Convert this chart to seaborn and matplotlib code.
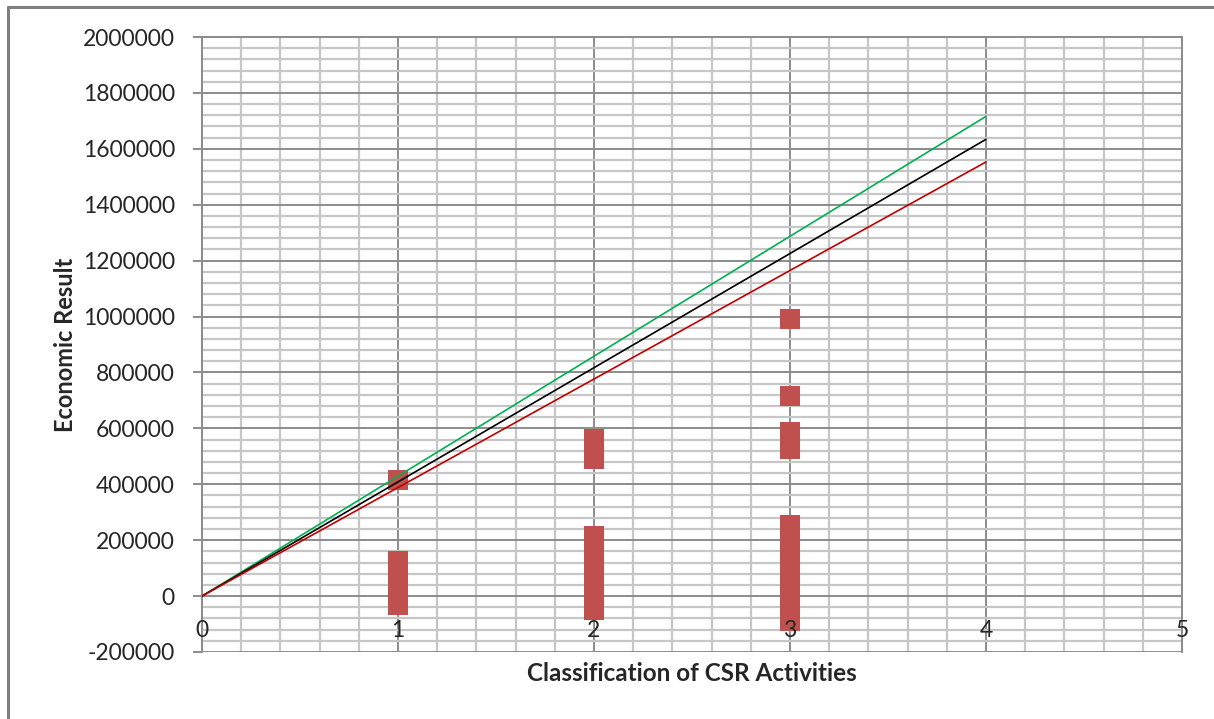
import seaborn as sns
import matplotlib.pyplot as plt
import pandas as pd
from matplotlib.ticker import MultipleLocator, FuncFormatter
from matplotlib.lines import Line2D

# Data
x_class1 = [1] * 8
y_class1 = [415000, 125000, 95000, 70000, 45000, 20000, 0, -30000]
x_class2 = [2] * 13
y_class2 = [560000, 525000, 490000, 215000, 180000, 150000, 120000,
            90000, 60000, 30000, 0, -25000, -50000]
x_class3 = [3] * 15
y_class3 = [990000, 715000, 585000, 525000, 255000, 220000, 180000, 140000,
            100000, 60000, 30000, 0, -30000, -60000, -90000]

line_x = [0, 4]
upper_y = [0, 1716000]
mid_y = [0, 1634000]
lower_y = [0, 1553000]

x_ticks = [0, 1, 2, 3, 4, 5]

points = pd.DataFrame({
    'csr': x_class1 + x_class2 + x_class3,
    'result': y_class1 + y_class2 + y_class3,
})

sns.set_style("white")
plt.rcParams['font.family'] = ['Lato', 'DejaVu Sans']

fig = plt.figure(figsize=(12.14, 7.19), dpi=100)
ax = fig.add_axes([202 / 1214, 1 - 652 / 719, 980 / 1214, 615 / 719])

# Grid
ax.set_xlim(0, 5)
ax.set_ylim(-200000, 2000000)
ax.xaxis.set_major_locator(MultipleLocator(1))
ax.xaxis.set_minor_locator(MultipleLocator(0.2))
ax.yaxis.set_major_locator(MultipleLocator(200000))
ax.yaxis.set_minor_locator(MultipleLocator(40000))
ax.yaxis.set_major_formatter(FuncFormatter(lambda v, p: f'{int(round(v))}'))
ax.grid(True, which='minor', color='#c6c6c6', linewidth=1.6, zorder=0)
ax.grid(True, which='major', color='#8c8c8c', linewidth=1.4, zorder=0)
ax.set_axisbelow(True)

# Scatter of observations
sns.scatterplot(data=points, x='csr', y='result', marker='s', s=210,
                color='#c0504d', edgecolor='none', linewidth=0, ax=ax, zorder=3)

# Trend lines
sns.lineplot(x=line_x, y=upper_y, color='#00b050', linewidth=1.2, ax=ax, zorder=4)
sns.lineplot(x=line_x, y=mid_y, color='black', linewidth=1.2, ax=ax, zorder=4)
sns.lineplot(x=line_x, y=lower_y, color='#c00000', linewidth=1.2, ax=ax, zorder=4)

# Axes styling
for side in ['top', 'right', 'left']:
    ax.spines[side].set_color('#8c8c8c')
    ax.spines[side].set_linewidth(1.4)
ax.spines['bottom'].set_visible(False)

ax.tick_params(axis='y', which='major', length=6.5, width=1.4, color='#8c8c8c',
               labelsize=16.5, pad=13, left=True)
ax.tick_params(axis='y', which='minor', length=0)
ax.tick_params(axis='x', which='both', length=0, labelbottom=False)

# category labels sit under the zero line, drawn above the markers
for t in x_ticks:
    ax.annotate(str(t), xy=(t, 0), xytext=(0, -25), textcoords='offset points',
                ha='center', va='center', fontsize=16.5, zorder=6)

ax.set_xlabel('Classification of CSR Activities', fontsize=17.5, fontweight='bold')
ax.set_ylabel('Economic Result', fontsize=17, fontweight='bold')
ax.xaxis.set_label_coords(0.5, -0.016)
ax.yaxis.set_label_coords(-0.1276, 0.5)

# Outer chart frame (left and top edges visible)
fig.add_artist(Line2D([8 / 1214, 8 / 1214], [0, 1 - 7 / 719], color='#808080', linewidth=2.2))
fig.add_artist(Line2D([8 / 1214, 1], [1 - 7 / 719, 1 - 7 / 719], color='#808080', linewidth=2.2))

fig.savefig('out.png', dpi=100)
